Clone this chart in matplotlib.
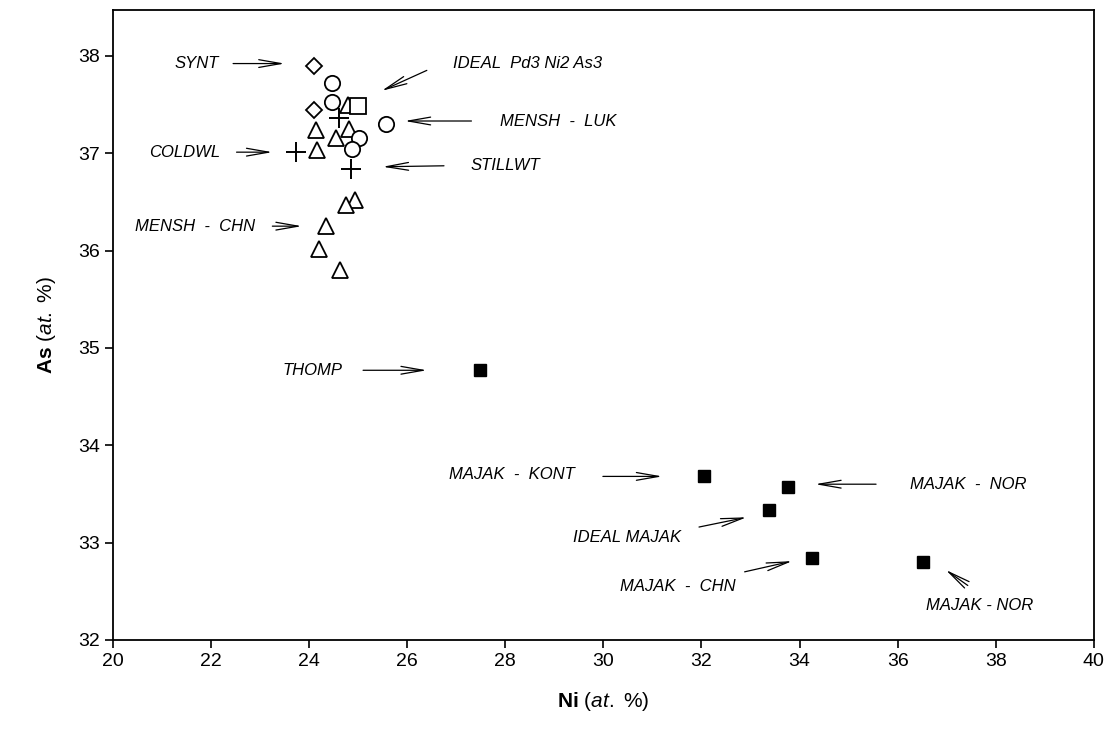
import numpy as np
import matplotlib
matplotlib.use("Agg")
import matplotlib.pyplot as plt

plt.rcParams['font.family'] = ['Liberation Sans', 'DejaVu Sans']
plt.rcParams['mathtext.fontset'] = 'custom'
plt.rcParams['mathtext.rm'] = 'Liberation Sans'
plt.rcParams['mathtext.it'] = 'Liberation Sans:italic'
plt.rcParams['mathtext.bf'] = 'Liberation Sans:bold'

# datos (Ni, As en at. %)
synt_ni = [24.10, 24.10]
synt_as = [37.90, 37.44]

ideal_ni = [25.00]
ideal_as = [37.48]

luk_ni = [24.47, 24.46, 25.56, 25.02, 24.87]
luk_as = [37.72, 37.53, 37.30, 37.16, 37.04]

cruz_ni = [24.61, 23.73, 24.85]
cruz_as = [37.36, 37.01, 36.84]

chn_ni = [24.80, 24.15, 24.82, 24.55, 24.17, 24.93, 24.76, 24.34, 24.21, 24.63]
chn_as = [37.49, 37.24, 37.25, 37.16, 37.03, 36.52, 36.47, 36.25, 36.02, 35.80]

majak_ni = [27.48, 32.06, 33.77, 33.37, 34.26, 36.51]
majak_as = [34.77, 33.68, 33.57, 33.34, 32.84, 32.80]

# etiquetas: texto, posicion del texto, inicio y fin de la flecha, alineacion
etiquetas = [
    ("SYNT",               (21.71, 37.92), (22.45, 37.92), (23.50, 37.92), 'center'),
    ("IDEAL  Pd3 Ni2 As3", (26.93, 37.92), (26.40, 37.85), (25.48, 37.64), 'left'),
    ("MENSH  -  LUK",      (27.89, 37.33), (27.31, 37.33), (25.95, 37.33), 'left'),
    ("COLDWL",             (21.47, 37.01), (22.52, 37.01), (23.25, 37.01), 'center'),
    ("STILLWT",            (27.3, 36.87), (26.75, 36.87), (25.50, 36.86), 'left'),
    ("MENSH  -  CHN",      (21.68, 36.25), (23.25, 36.25), (23.85, 36.25), 'center'),
    ("THOMP",              (24.06, 34.77), (25.10, 34.77), (26.40, 34.77), 'center'),
    ("MAJAK  -  KONT",     (28.13, 33.70), (29.99, 33.68), (31.20, 33.68), 'center'),
    ("MAJAK  -  NOR",      (36.25, 33.60), (35.56, 33.60), (34.32, 33.60), 'left'),
    ("IDEAL MAJAK",        (30.48, 33.05), (31.95, 33.16), (32.92, 33.26), 'center'),
    ("MAJAK  -  CHN",      (31.52, 32.55), (32.88, 32.70), (33.85, 32.81), 'center'),
    ("MAJAK - NOR",        (37.68, 32.35), (37.43, 32.56), (36.98, 32.72), 'center'),
]

fig = plt.figure(figsize=(11.15, 7.30), dpi=100)
ax = fig.add_axes([0.1013, 0.1233, 0.8797, 0.863])

ax.plot(chn_ni, chn_as, '^', ms=11, mfc='white', mec='black', mew=1.3, ls='none')
ax.plot(synt_ni, synt_as, 'D', ms=8, mfc='white', mec='black', mew=1.3, ls='none')
ax.plot(luk_ni, luk_as, 'o', ms=11, mfc='white', mec='black', mew=1.3, ls='none')
ax.plot(cruz_ni, cruz_as, '+', ms=15, mec='black', mew=1.4, ls='none')
ax.plot(ideal_ni, ideal_as, 's', ms=11, mfc='white', mec='black', mew=1.3, ls='none')
ax.plot(majak_ni, majak_as, 's', ms=8.5, mfc='black', mec='black', ls='none')

for texto, pos, ini, fin, al in etiquetas:
    ax.text(pos[0], pos[1], texto, fontsize=12, style='italic', ha=al, va='center')
    ax.annotate('', xy=fin, xytext=ini,
                arrowprops=dict(arrowstyle='->,head_length=1.6,head_width=0.28',
                                color='black', lw=0.9, shrinkA=0, shrinkB=0))

ax.set_xlim(20, 40)
ax.set_ylim(32, 38.47)
ax.set_xticks(np.arange(20, 41, 2))
ax.set_yticks(np.arange(32, 39, 1))
ax.tick_params(direction='out', length=6, width=1.2, labelsize=14, top=False, right=False)
for s in ax.spines.values():
    s.set_linewidth(1.3)

ax.set_xlabel(r'$\mathbf{Ni}$ ($\mathit{at.}$ %)', fontsize=15, labelpad=14)
ax.set_ylabel(r'$\mathbf{As}$ ($\mathit{at.}$ %)', fontsize=15, labelpad=14)

fig.savefig("out.png", dpi=100)
